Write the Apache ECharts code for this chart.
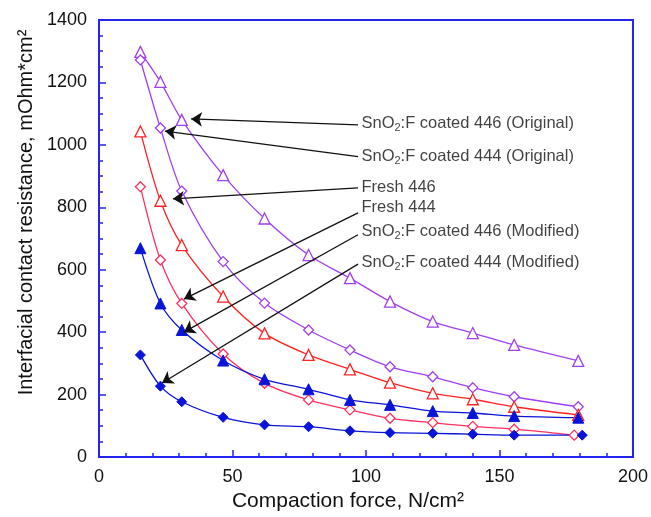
<!DOCTYPE html>
<html>
<head>
<meta charset="utf-8">
<title>Interfacial contact resistance vs compaction force</title>
<script src="https://cdn.jsdelivr.net/npm/echarts@6/dist/echarts.min.js"></script>
<style>
  html, body { margin: 0; padding: 0; background: #fff; }
  #chart { width: 651px; height: 517px; }
</style>
</head>
<body>
<div id="chart"></div>
<script>
// Compaction force (N/cm2) at each measurement step
const force = [15.5, 23, 31, 46.5, 62, 78.5, 94, 109, 125, 140, 155.5, 179.5];
const forceFresh444 = [15.5, 23, 31, 46.5, 62, 78.5, 94, 109, 125, 140, 155.5, 178];
const forceCoated444Mod = [15.5, 23, 31, 46.5, 62, 78.5, 94, 109, 125, 140, 155.5, 181];

// Interfacial contact resistance (mOhm*cm2)
const coated446Orig = [1298, 1202, 1080, 903, 764, 647, 573, 498, 434, 397, 359, 308];
const coated444Orig = [1272, 1054, 852, 626, 493, 407, 343, 289, 257, 222, 193, 161];
const fresh446 = [1043, 821, 679, 514, 396, 327, 281, 238, 204, 185, 161, 135];
const fresh444 = [866, 631, 492, 330, 236, 183, 151, 124, 110, 98, 89, 70];
const coated446Mod = [669, 492, 407, 309, 249, 217, 183, 167, 147, 141, 131, 126];
const coated444Mod = [327, 227, 177, 127, 103, 97, 84, 78, 76, 73, 70, 70];

// Axis ticks
const xTicks = [0, 50, 100, 150, 200];
const yTicks = [0, 200, 400, 600, 800, 1000, 1200, 1400];

// Callout labels: text, label anchor [force, resistance], arrow start, arrow tip
const calloutText = [
  ['SnO', '2', ':F coated 446 (Original)'],
  ['SnO', '2', ':F coated 444 (Original)'],
  ['Fresh 446', '', ''],
  ['Fresh 444', '', ''],
  ['SnO', '2', ':F coated 446 (Modified)'],
  ['SnO', '2', ':F coated 444 (Modified)']
];
const calloutAnchor = [[98.3, 1070], [98.3, 964], [98.3, 865], [98.3, 798], [98.3, 721], [98.3, 622]];
const arrowStart = [[97, 1064], [97, 962], [97, 862], [97, 782], [97, 712], [97, 618]];
const arrowTip = [[34.5, 1083], [24.7, 1044], [27.7, 827], [31.8, 506], [31.8, 400], [23.6, 237]];

const AXIS_BLUE = '#2424ee';
const VIOLET = '#a040f0';
const RED = '#ff2222';
const ROSE = '#ff3060';
const BLUE = '#0a14d8';
const FONT = '"Liberation Sans", Arial, sans-serif';

function pairs(xs, ys) { return ys.map((v, i) => [xs[i], v]); }

function curve(name, xs, ys, color, symbol, filled, size) {
  return {
    name: name,
    type: 'line',
    smooth: 0.3,
    data: pairs(xs, ys),
    symbol: symbol,
    symbolSize: size,
    showAllSymbol: true,
    lineStyle: { color: color, width: 1.3 },
    itemStyle: filled
      ? { color: color, borderColor: color, borderWidth: 1 }
      : { color: '#ffffff', borderColor: color, borderWidth: 1.3 },
    emphasis: { disabled: true },
    z: 3
  };
}

function labelFormatter(i) {
  const t = calloutText[i];
  return t[1] ? '{a|' + t[0] + '}{s|' + t[1] + '}{a|' + t[2] + '}' : '{a|' + t[0] + '}';
}

const chart = echarts.init(document.getElementById('chart'));
chart.setOption({
  animation: false,
  backgroundColor: '#ffffff',
  grid: {
    left: 99, right: 18, top: 20, bottom: 60,
    show: true, borderColor: AXIS_BLUE, borderWidth: 2
  },
  xAxis: {
    type: 'value', min: xTicks[0], max: xTicks[xTicks.length - 1], interval: 50,
    name: 'Compaction force, N/cm²', nameLocation: 'middle', nameGap: 31,
    nameTextStyle: { fontFamily: FONT, fontSize: 21, color: '#111', padding: [0, 36, 0, 0] },
    axisLine: { lineStyle: { color: AXIS_BLUE, width: 2 } },
    axisTick: { inside: true, length: 7, lineStyle: { color: AXIS_BLUE, width: 1.5 } },
    minorTick: { show: true, splitNumber: 5, length: 4, lineStyle: { color: AXIS_BLUE, width: 1.5 } },
    axisLabel: { fontFamily: FONT, fontSize: 18, color: '#111', margin: 11, formatter: v => String(v) },
    splitLine: { show: false }
  },
  yAxis: {
    type: 'value', min: yTicks[0], max: yTicks[yTicks.length - 1], interval: 200,
    name: 'Interfacial contact resistance, mOhm*cm²', nameLocation: 'middle', nameGap: 61,
    nameTextStyle: { fontFamily: FONT, fontSize: 20, color: '#111', padding: [0, 0, 0, 52] },
    axisLine: { lineStyle: { color: AXIS_BLUE, width: 2 } },
    axisTick: { inside: true, length: 7, lineStyle: { color: AXIS_BLUE, width: 1.5 } },
    minorTick: { show: true, splitNumber: 4, length: 4, lineStyle: { color: AXIS_BLUE, width: 1.5 } },
    axisLabel: { fontFamily: FONT, fontSize: 18, color: '#111', margin: 12, formatter: v => String(v) },
    splitLine: { show: false }
  },
  series: [
    curve('SnO2:F coated 446 (Original)', force, coated446Orig, VIOLET, 'triangle', false, 11),
    curve('SnO2:F coated 444 (Original)', force, coated444Orig, VIOLET, 'diamond', false, 10),
    curve('Fresh 446', force, fresh446, RED, 'triangle', false, 11),
    curve('Fresh 444', forceFresh444, fresh444, ROSE, 'diamond', false, 10),
    curve('SnO2:F coated 446 (Modified)', force, coated446Mod, BLUE, 'triangle', true, 11),
    curve('SnO2:F coated 444 (Modified)', forceCoated444Mod, coated444Mod, BLUE, 'diamond', true, 10),
    {
      type: 'lines',
      coordinateSystem: 'cartesian2d',
      symbol: ['none', 'arrow'],
      symbolSize: [0, 11],
      lineStyle: { color: '#111', width: 1.3, opacity: 1 },
      data: arrowStart.map((s, i) => ({ coords: [s, arrowTip[i]] })),
      silent: true,
      z: 5
    },
    {
      type: 'scatter',
      symbolSize: 0,
      silent: true,
      data: calloutAnchor.map((p, i) => ({
        value: p,
        label: {
          show: true, position: 'right', distance: 0,
          formatter: labelFormatter(i),
          rich: {
            a: { fontFamily: FONT, fontSize: 16.5, color: '#111', lineHeight: 20, verticalAlign: 'middle' },
            s: { fontFamily: FONT, fontSize: 11, color: '#111', lineHeight: 20, verticalAlign: 'bottom', padding: [9, 0, 0, 0] }
          }
        }
      })),
      z: 6
    }
  ]
});
</script>
</body>
</html>
